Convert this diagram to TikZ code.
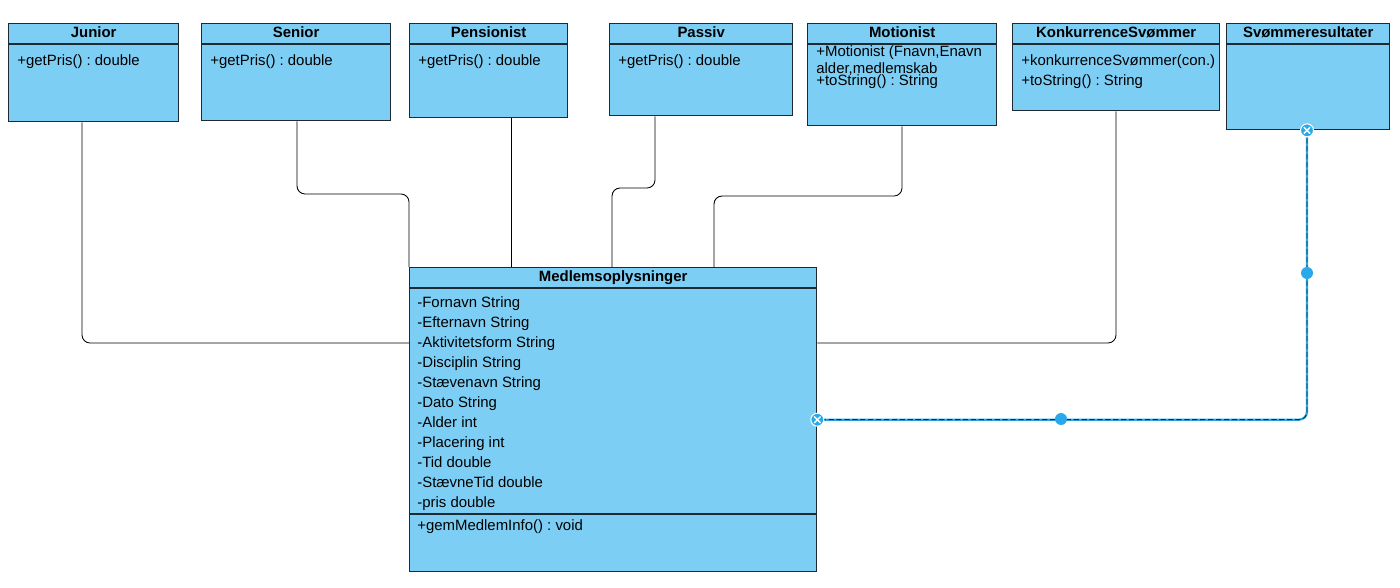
\documentclass[tikz,border=0pt]{standalone}
\usepackage{fontspec}
\setmainfont{Liberation Sans}
\frenchspacing
\definecolor{umlfill}{HTML}{7DCEF4}
\definecolor{umlline}{HTML}{1E2A33}
\definecolor{handleblue}{HTML}{2AA9EA}

\begin{document}
\begin{tikzpicture}[x=0.02cm,y=-0.02cm,
  cls/.style={draw=umlline,fill=umlfill,line width=0.8pt,anchor=north west,inner sep=0pt},
  ctitle/.style={font=\fontsize{8.5}{10}\selectfont\bfseries,inner sep=0pt,anchor=base},
  member/.style={font=\fontsize{8.5}{10}\selectfont,anchor=base west,inner sep=0pt},
  link/.style={draw=black,line width=0.5pt,rounded corners=0.16cm},
  sel/.style={draw=handleblue,line width=1.3pt,rounded corners=0.16cm},
  seldash/.style={draw=umlline,dashed,dash pattern=on 3pt off 1.5pt,line width=0.5pt,rounded corners=0.16cm},
  dot/.style={circle,fill=handleblue,inner sep=0pt,minimum size=0.24cm},
  xdot/.style={circle,fill=handleblue,draw=white,line width=0.6pt,inner sep=0pt,minimum size=0.26cm,
    path picture={\draw[white,line width=0.8pt] (path picture bounding box.center) +(-1.8pt,-1.8pt) -- +(1.8pt,1.8pt) +(-1.8pt,1.8pt) -- +(1.8pt,-1.8pt);}}]
  \useasboundingbox (0,0) rectangle (1400,588);

  % classes
  \node[cls,minimum width=3.4cm,minimum height=1.96cm] (junior) at (8,23) {};
  \node[cls,minimum width=3.78cm,minimum height=1.94cm] (senior) at (201,23) {};
  \node[cls,minimum width=3.16cm,minimum height=1.88cm] (pension) at (409,23) {};
  \node[cls,minimum width=3.66cm,minimum height=1.84cm] (passiv) at (609,23) {};
  \node[cls,minimum width=3.78cm,minimum height=2.04cm] (motion) at (807,23) {};
  \node[cls,minimum width=4.14cm,minimum height=1.74cm] (konk) at (1012,23) {};
  \node[cls,minimum width=3.26cm,minimum height=2.12cm] (svom) at (1226,23) {};
  \node[cls,minimum width=8.14cm,minimum height=6.08cm] (medlem) at (409,267) {};

  \foreach \c in {junior,senior,pension,passiv,motion,konk,svom,medlem}
    \draw[umlline,line width=0.8pt] ([yshift=-0.42cm]\c.north west) -- ([yshift=-0.42cm]\c.north east);
  \draw[umlline,line width=0.8pt] (medlem.west |- 0,514) -- (medlem.east |- 0,514);

  % titles
  \node[ctitle] (juniorT) at ([yshift=-0.3cm]junior.north) {Junior};
  \node[ctitle] (seniorT) at ([yshift=-0.3cm]senior.north) {Senior};
  \node[ctitle] (pensionT) at ([yshift=-0.3cm]pension.north) {Pensionist};
  \node[ctitle] (passivT) at ([yshift=-0.3cm]passiv.north) {Passiv};
  \node[ctitle] (motionT) at ([yshift=-0.3cm]motion.north) {Motionist};
  \node[ctitle] (konkT) at ([yshift=-0.3cm]konk.north) {KonkurrenceSvømmer};
  \node[ctitle] (svomT) at ([yshift=-0.3cm]svom.north) {Svømmeresultater};
  \node[ctitle] (medlemT) at ([yshift=-0.3cm]medlem.north) {Medlemsoplysninger};

  % members
  \node[member] (juniorA) at (17,66) {+getPris() : double};
  \node[member] (seniorA) at (210,66) {+getPris() : double};
  \node[member] (pensionA) at (418,66) {+getPris() : double};
  \node[member] (passivA) at (618,66) {+getPris() : double};
  \node[member] (motionA) at (816,57) {+Motionist (Fnavn,Enavn};
  \node[member] (motionB) at (816,74) {alder,medlemskab};
  \node[member] (motionC) at (816,86) {+toString() : String};
  \node[member] (konkA) at (1021,66) {+konkurrenceSvømmer(con.)};
  \node[member] (konkB) at (1021,86) {+toString() : String};
  \foreach \a [count=\i] in {-Fornavn String,-Efternavn String,-Aktivitetsform String,-Disciplin String,
      -Stævenavn String,-Dato String,-Alder int,-Placering int,-Tid double,-StævneTid double,-pris double}
    \node[member] (medlemA\i) at (417,287+20*\i) {\a};
  \node[member] (medlemM) at (417,530) {+gemMedlemInfo() : void};

  % connectors
  \draw[link] (junior.south -| 82,0) |- (medlem.north west |- 0,343);
  \draw[link] (senior.south -| 297,0) -- (297,194) -| (medlem.north west);
  \draw[link] (pension.south -| 511,0) -- (medlem.north -| 511,0);
  \draw[link] (passiv.south -| 655,0) -- (655,188) -| (medlem.north -| 612,0);
  \draw[link] (motion.south -| 902,0) -- (902,196) -| (medlem.north -| 714,0);
  \draw[link] (konk.south -| 1116,0) |- (medlem.north east |- 0,343);
  \draw[sel] (svom.south -| 1307,0) |- (medlem.east);
  \draw[seldash] (svom.south -| 1307,0) |- (medlem.east);

  % selection handles
  \node[dot] (midA) at (1307,273) {};
  \node[dot] (midB) at (1061,419) {};
  \node[xdot] (endA) at (svom.south -| 1307,0) {};
  \node[xdot] (endB) at (medlem.east) {};
\end{tikzpicture}
\end{document}
